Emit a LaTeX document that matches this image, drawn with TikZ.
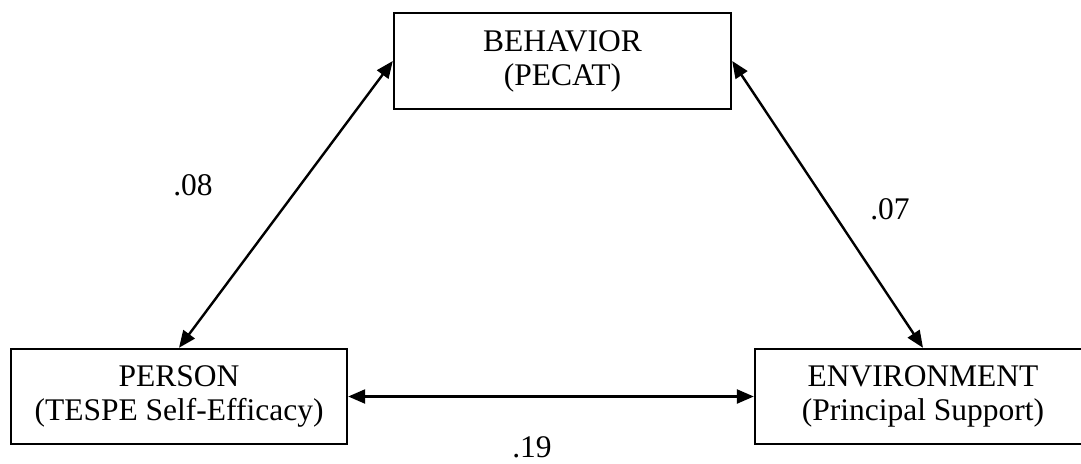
\documentclass[tikz,border=0pt]{standalone}
\usepackage{fontspec}
\setmainfont{Liberation Serif}
\usetikzlibrary{arrows.meta}
\tikzset{
  box/.style={draw=black, line width=2.4pt, fill=white, align=center,
    inner sep=0pt, font=\fontsize{31.5}{34}\selectfont},
  link/.style={line width=2.4pt, {Triangle[length=17pt,width=14pt]}-{Triangle[length=17pt,width=14pt]}},
  coef/.style={font=\fontsize{31.5}{34}\selectfont, inner sep=0pt}
}
\begin{document}
\begin{tikzpicture}[x=1pt,y=-1pt]
  \useasboundingbox (0,0) rectangle (1081,463);
  % the three boxes of the triad
  \node[box, minimum width=337pt, minimum height=96pt] (behav) at (562.5,61)
    {BEHAVIOR\\(PECAT)};
  \node[box, minimum width=336pt, minimum height=95pt] (person) at (179,396.5)
    {PERSON\\(TESPE Self-Efficacy)};
  \node[box, minimum width=336pt, minimum height=95pt] (envir) at (923,396.5)
    {ENVIRONMENT\\(Principal Support)};
  % reciprocal links
  \draw[link] (behav.west) -- (person.north);
  \draw[link] (behav.east) -- (envir.north);
  \draw[link] (person.east) -- (envir.west);
  % path coefficients
  \node[coef] (c1) at (193,185) {.08};
  \node[coef] (c2) at (890,209) {.07};
  \node[coef] (c3) at (532,447) {.19};
\end{tikzpicture}
\end{document}
